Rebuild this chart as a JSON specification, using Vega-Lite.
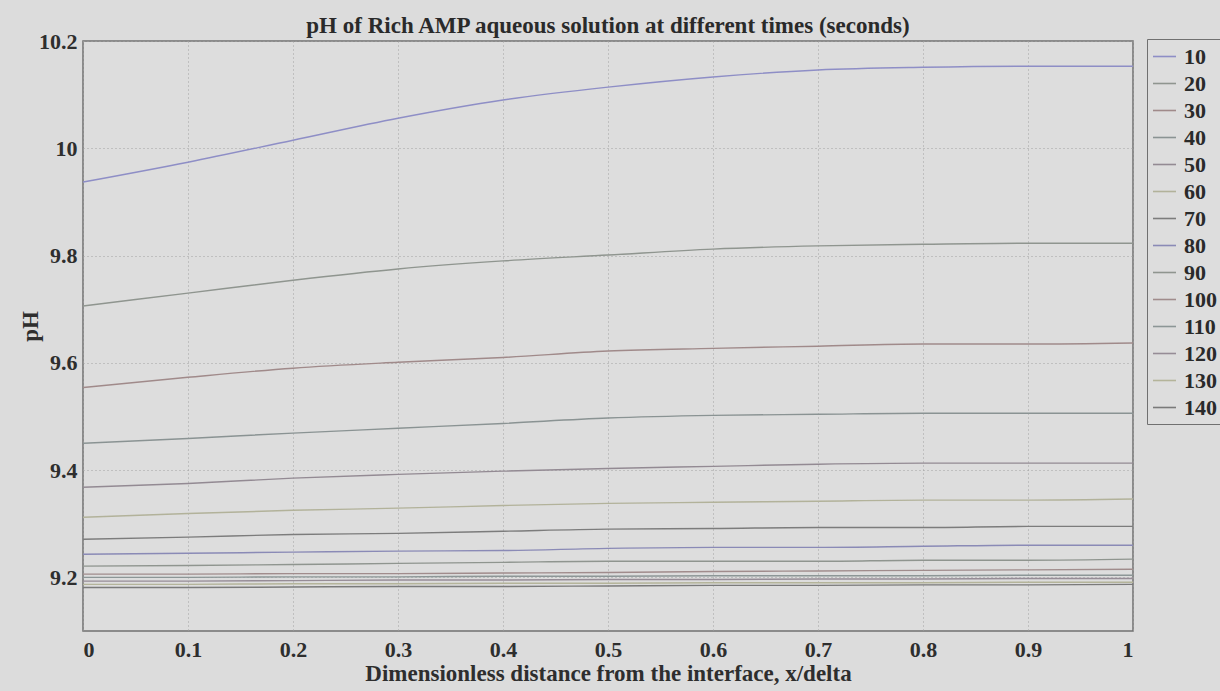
{
  "$schema": "https://vega.github.io/schema/vega-lite/v6.json",
  "width": 1050,
  "height": 590,
  "autosize": {"type": "none"},
  "padding": {"left": 83, "top": 41, "right": 87, "bottom": 60},
  "background": "#dcdcdc",
  "title": {
    "text": "pH of Rich AMP aqueous solution at different times (seconds)",
    "font": "Liberation Serif",
    "fontSize": 23,
    "fontWeight": "bold",
    "color": "#2a2a2a",
    "anchor": "middle",
    "offset": -8
  },
  "config": {
    "view": {"fill": "#dddddd", "stroke": "#707070", "strokeWidth": 1.5},
    "axis": {
      "labelFont": "Liberation Serif",
      "labelFontSize": 22,
      "labelFontWeight": "bold",
      "labelColor": "#2e2e2e",
      "titleFont": "Liberation Serif",
      "titleFontSize": 23,
      "titleFontWeight": "bold",
      "titleColor": "#2e2e2e",
      "gridColor": "#a0a0a0",
      "gridDash": [1, 3],
      "gridWidth": 1,
      "domain": false,
      "ticks": false
    }
  },
  "data": {
    "values": [
      {"t":10,"x":0,"pH":9.937},{"t":10,"x":0.1,"pH":9.974},{"t":10,"x":0.2,"pH":10.015},{"t":10,"x":0.3,"pH":10.056},{"t":10,"x":0.4,"pH":10.090},{"t":10,"x":0.5,"pH":10.114},{"t":10,"x":0.6,"pH":10.133},{"t":10,"x":0.7,"pH":10.146},{"t":10,"x":0.8,"pH":10.151},{"t":10,"x":0.9,"pH":10.153},{"t":10,"x":1,"pH":10.153},
      {"t":20,"x":0,"pH":9.706},{"t":20,"x":0.1,"pH":9.730},{"t":20,"x":0.2,"pH":9.754},{"t":20,"x":0.3,"pH":9.775},{"t":20,"x":0.4,"pH":9.790},{"t":20,"x":0.5,"pH":9.801},{"t":20,"x":0.6,"pH":9.812},{"t":20,"x":0.7,"pH":9.818},{"t":20,"x":0.8,"pH":9.821},{"t":20,"x":0.9,"pH":9.823},{"t":20,"x":1,"pH":9.823},
      {"t":30,"x":0,"pH":9.554},{"t":30,"x":0.1,"pH":9.573},{"t":30,"x":0.2,"pH":9.590},{"t":30,"x":0.3,"pH":9.601},{"t":30,"x":0.4,"pH":9.610},{"t":30,"x":0.5,"pH":9.622},{"t":30,"x":0.6,"pH":9.627},{"t":30,"x":0.7,"pH":9.631},{"t":30,"x":0.8,"pH":9.635},{"t":30,"x":0.9,"pH":9.635},{"t":30,"x":1,"pH":9.637},
      {"t":40,"x":0,"pH":9.450},{"t":40,"x":0.1,"pH":9.459},{"t":40,"x":0.2,"pH":9.469},{"t":40,"x":0.3,"pH":9.478},{"t":40,"x":0.4,"pH":9.487},{"t":40,"x":0.5,"pH":9.497},{"t":40,"x":0.6,"pH":9.502},{"t":40,"x":0.7,"pH":9.504},{"t":40,"x":0.8,"pH":9.506},{"t":40,"x":0.9,"pH":9.506},{"t":40,"x":1,"pH":9.506},
      {"t":50,"x":0,"pH":9.368},{"t":50,"x":0.1,"pH":9.375},{"t":50,"x":0.2,"pH":9.385},{"t":50,"x":0.3,"pH":9.392},{"t":50,"x":0.4,"pH":9.398},{"t":50,"x":0.5,"pH":9.403},{"t":50,"x":0.6,"pH":9.407},{"t":50,"x":0.7,"pH":9.411},{"t":50,"x":0.8,"pH":9.413},{"t":50,"x":0.9,"pH":9.413},{"t":50,"x":1,"pH":9.413},
      {"t":60,"x":0,"pH":9.312},{"t":60,"x":0.1,"pH":9.319},{"t":60,"x":0.2,"pH":9.325},{"t":60,"x":0.3,"pH":9.329},{"t":60,"x":0.4,"pH":9.334},{"t":60,"x":0.5,"pH":9.338},{"t":60,"x":0.6,"pH":9.340},{"t":60,"x":0.7,"pH":9.342},{"t":60,"x":0.8,"pH":9.344},{"t":60,"x":0.9,"pH":9.344},{"t":60,"x":1,"pH":9.346},
      {"t":70,"x":0,"pH":9.271},{"t":70,"x":0.1,"pH":9.275},{"t":70,"x":0.2,"pH":9.280},{"t":70,"x":0.3,"pH":9.282},{"t":70,"x":0.4,"pH":9.286},{"t":70,"x":0.5,"pH":9.290},{"t":70,"x":0.6,"pH":9.291},{"t":70,"x":0.7,"pH":9.293},{"t":70,"x":0.8,"pH":9.293},{"t":70,"x":0.9,"pH":9.295},{"t":70,"x":1,"pH":9.295},
      {"t":80,"x":0,"pH":9.243},{"t":80,"x":0.1,"pH":9.245},{"t":80,"x":0.2,"pH":9.247},{"t":80,"x":0.3,"pH":9.249},{"t":80,"x":0.4,"pH":9.250},{"t":80,"x":0.5,"pH":9.254},{"t":80,"x":0.6,"pH":9.256},{"t":80,"x":0.7,"pH":9.256},{"t":80,"x":0.8,"pH":9.258},{"t":80,"x":0.9,"pH":9.260},{"t":80,"x":1,"pH":9.260},
      {"t":90,"x":0,"pH":9.221},{"t":90,"x":0.1,"pH":9.222},{"t":90,"x":0.2,"pH":9.224},{"t":90,"x":0.3,"pH":9.226},{"t":90,"x":0.4,"pH":9.228},{"t":90,"x":0.5,"pH":9.230},{"t":90,"x":0.6,"pH":9.230},{"t":90,"x":0.7,"pH":9.230},{"t":90,"x":0.8,"pH":9.232},{"t":90,"x":0.9,"pH":9.232},{"t":90,"x":1,"pH":9.234},
      {"t":100,"x":0,"pH":9.206},{"t":100,"x":0.1,"pH":9.206},{"t":100,"x":0.2,"pH":9.207},{"t":100,"x":0.3,"pH":9.207},{"t":100,"x":0.4,"pH":9.208},{"t":100,"x":0.5,"pH":9.209},{"t":100,"x":0.6,"pH":9.211},{"t":100,"x":0.7,"pH":9.212},{"t":100,"x":0.8,"pH":9.213},{"t":100,"x":0.9,"pH":9.214},{"t":100,"x":1,"pH":9.215},
      {"t":110,"x":0,"pH":9.200},{"t":110,"x":0.1,"pH":9.200},{"t":110,"x":0.2,"pH":9.201},{"t":110,"x":0.3,"pH":9.201},{"t":110,"x":0.4,"pH":9.202},{"t":110,"x":0.5,"pH":9.202},{"t":110,"x":0.6,"pH":9.203},{"t":110,"x":0.7,"pH":9.203},{"t":110,"x":0.8,"pH":9.203},{"t":110,"x":0.9,"pH":9.204},{"t":110,"x":1,"pH":9.204},
      {"t":120,"x":0,"pH":9.193},{"t":120,"x":0.1,"pH":9.193},{"t":120,"x":0.2,"pH":9.194},{"t":120,"x":0.3,"pH":9.195},{"t":120,"x":0.4,"pH":9.195},{"t":120,"x":0.5,"pH":9.196},{"t":120,"x":0.6,"pH":9.196},{"t":120,"x":0.7,"pH":9.197},{"t":120,"x":0.8,"pH":9.197},{"t":120,"x":0.9,"pH":9.198},{"t":120,"x":1,"pH":9.198},
      {"t":130,"x":0,"pH":9.187},{"t":130,"x":0.1,"pH":9.187},{"t":130,"x":0.2,"pH":9.188},{"t":130,"x":0.3,"pH":9.188},{"t":130,"x":0.4,"pH":9.189},{"t":130,"x":0.5,"pH":9.189},{"t":130,"x":0.6,"pH":9.190},{"t":130,"x":0.7,"pH":9.190},{"t":130,"x":0.8,"pH":9.190},{"t":130,"x":0.9,"pH":9.191},{"t":130,"x":1,"pH":9.191},
      {"t":140,"x":0,"pH":9.181},{"t":140,"x":0.1,"pH":9.181},{"t":140,"x":0.2,"pH":9.182},{"t":140,"x":0.3,"pH":9.183},{"t":140,"x":0.4,"pH":9.183},{"t":140,"x":0.5,"pH":9.184},{"t":140,"x":0.6,"pH":9.185},{"t":140,"x":0.7,"pH":9.185},{"t":140,"x":0.8,"pH":9.186},{"t":140,"x":0.9,"pH":9.186},{"t":140,"x":1,"pH":9.187}
    ]
  },
  "mark": {"type": "line", "strokeWidth": 1.4, "interpolate": "monotone"},
  "encoding": {
    "x": {
      "field": "x",
      "type": "quantitative",
      "scale": {"domain": [0, 1], "nice": false},
      "axis": {
        "title": "Dimensionless distance from the interface, x/delta",
        "values": [0, 0.1, 0.2, 0.3, 0.4, 0.5, 0.6, 0.7, 0.8, 0.9, 1],
        "format": "~g",
        "labelPadding": 8,
        "titlePadding": 2
      }
    },
    "y": {
      "field": "pH",
      "type": "quantitative",
      "scale": {"domain": [9.1, 10.2], "nice": false, "zero": false},
      "axis": {
        "title": "pH",
        "values": [9.2, 9.4, 9.6, 9.8, 10, 10.2],
        "format": "~g",
        "labelPadding": 6,
        "titleX": -53,
        "titleY": 285,
        "titleBaseline": "middle",
        "titleAngle": 270
      }
    },
    "color": {
      "field": "t",
      "type": "nominal",
      "scale": {
        "domain": [10, 20, 30, 40, 50, 60, 70, 80, 90, 100, 110, 120, 130, 140],
        "range": ["#8e8ec6", "#8f958f", "#a08a8a", "#8a9393", "#938a93", "#b2b29a", "#7c7c7c", "#8a8ab6", "#8f958f", "#a08c8c", "#8c9696", "#968c96", "#b4b49a", "#7a7a7a"]
      },
      "legend": {
        "title": null,
        "orient": "none",
        "legendX": 1064,
        "legendY": -2,
        "symbolType": "stroke",
        "symbolSize": 529,
        "symbolStrokeWidth": 1.6,
        "labelFont": "Liberation Serif",
        "labelFontSize": 22,
        "labelFontWeight": "bold",
        "labelColor": "#2a2a2a",
        "rowPadding": 3,
        "padding": 5,
        "strokeColor": "#707070",
        "fillColor": "#dddddd",
        "labelOffset": 7
      }
    }
  }
}
